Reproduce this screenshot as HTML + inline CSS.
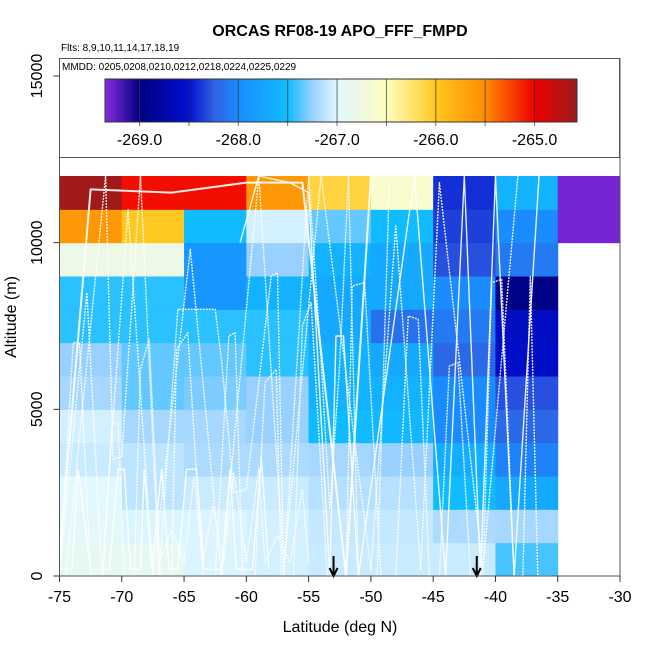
<!DOCTYPE html>
<html><head><meta charset="utf-8"><style>
body{margin:0;background:#fff}
svg text{font-family:"Liberation Sans",sans-serif}
</style></head><body>
<svg id="c" width="650" height="650" xmlns="http://www.w3.org/2000/svg">
<text x="340" y="36" text-anchor="middle" font-size="16" font-weight="bold">ORCAS RF08-19 APO_FFF_FMPD</text>
<text x="61" y="51" font-size="10">Flts: 8,9,10,11,14,17,18,19</text>
<g id="cells"></g>
<g id="tracks"></g>
<g id="legend"></g>
<g id="axes"></g>
</svg>
<script>
const NS="http://www.w3.org/2000/svg";
const latBins=[-75,-70,-65,-60,-55,-50,-45,-40,-35];
const altBins=[0,1000,2000,3000,4000,5000,6000,7000,8000,9000,10000,11000];
const row0=[-266.9,-266.9,-267.02,-267.05,-267.08,-267.08,-267.08,-267.4];
const row1=[-266.95,-267.02,-267.02,-267.05,-267.1,-267.1,-267.18,-267.2];
const row2=[-267.0,-267.12,-267.08,-267.08,-267.15,-267.15,-267.5,-267.7];
const row3=[-267.08,-267.12,-267.18,-267.18,-267.2,-267.25,-267.65,-268.05];
const row4=[-267.05,-267.2,-267.2,-267.25,-267.5,-267.55,-268.0,-268.2];
const row5=[-267.2,-267.35,-267.3,-267.25,-267.6,-267.6,-268.0,-268.3];
const row6=[-267.25,-267.35,-267.35,-267.45,-267.6,-267.7,-268.2,-268.55];
const row7=[-267.45,-267.45,-267.45,-267.45,-267.7,-268.15,-268.1,-268.6];
const row8=[-267.45,-267.45,-267.9,-267.6,-267.7,-267.7,-268.0,-268.95];
const row9=[-266.8,-266.8,-267.9,-267.25,-267.6,-267.7,-268.3,-268.1,null];
const row10=[-265.6,-266.0,-267.5,-267.05,-267.35,-267.5,-268.35,-268.0,-269.3];
const row11=[-264.6,-265.05,-265.05,-265.6,-266.1,-266.6,-268.4,-267.6,-269.3];
const rows=[row0,row1,row2,row3,row4,row5,row6,row7,row8,row9,row10,row11];
const colorTicks=[-269.0,-268.0,-267.0,-266.0,-265.0];
const cmapV=[-269.35,-269.0,-268.5,-268.25,-268.0,-267.5,-267.25,-267.0,-266.75,-266.5,-266.0,-265.5,-265.0,-264.57];
const cmapC=["#8a2be2","#000080","#0010d0","#3060e0","#1a8cff","#10bcff","#98d0ff","#e0f8ff","#f0f8e0","#ffffc0","#ffc820","#ff8c00","#f00000","#9b1c1c"];
const arrowLats=[-53,-41.5];
// flight track samples: [lat, alt]
const track1=[[-75,0],[-73.9,7000],[-73.4,7000],[-72.5,0],[-71.5,0],[-70.8,4500],[-70.3,4600],[-69.8,0],[-69,0],[-68.5,6200],[-67.8,7100],[-66.9,0],[-66,0],[-65.6,6800],[-64.7,7300],[-63.5,0],[-62.5,0],[-61.4,7200],[-60.9,7300],[-60.3,0],[-59.3,0],[-58.5,5800],[-57.6,6200],[-57.2,0],[-56.2,0],[-55.5,7500],[-54.8,8200],[-53.5,0],[-52,0],[-51.5,8700],[-50.5,8800],[-49.2,0],[-48,0],[-47,7800],[-46.2,7700],[-45.3,0],[-44.5,0],[-43.7,6300],[-43,6400],[-42,0],[-41,0],[-40.3,8800],[-39.5,8900],[-38.5,0],[-37.8,0],[-37.2,9000],[-36.6,0],[-35.5,0]];
const track2=[[-75,500],[-72.5,11600],[-66,11500],[-60,11800],[-55.5,11800],[-52,0],[-50,12000]];
const track3=[[-74.5,0],[-71.3,12000],[-70.7,3500],[-70,3600],[-68.5,12000],[-67,0],[-65.5,8000],[-62.5,8000],[-62,6500],[-61,2500],[-60,2600],[-58,9000],[-57.5,9100],[-57,0],[-55,12000],[-54,6500],[-53.3,2000],[-52.5,6400],[-51.8,12000],[-51,0],[-49.5,0],[-48.5,12000]];
const track4=[[-60.5,10000],[-59,12000],[-56.5,11800],[-55,11500],[-53.3,0],[-52.8,7200],[-52.2,7200],[-51,0],[-46.5,12000],[-44,0],[-42.5,12000],[-41.2,0],[-40,12000],[-38.5,0],[-36.5,12000]];
const track5=[[-67,400],[-66,1400],[-65,400],[-64.2,3000],[-63.5,400],[-62.7,2100],[-61.8,400],[-61,3100],[-60,400],[-59,3200],[-58.5,400],[-57.5,1200],[-56.5,400],[-55.5,2600],[-55,400]];
const track6=[[-75,200],[-74,200],[-73.5,3200],[-72.5,200],[-71,200],[-70.3,3200],[-69.8,3200],[-69.3,200],[-68.5,200],[-68.2,3200],[-67.6,200],[-66.8,3200],[-66.2,200],[-65.5,200],[-64.8,3200],[-64,3200],[-63.4,200],[-62,200],[-61.3,3200],[-60.8,200],[-59.5,200],[-58.8,3600],[-58.2,200]];
const track7=[[-75,0],[-72.8,8500],[-71.6,0],[-69.5,11000],[-67.5,0],[-64.5,9800],[-62,0],[-59,12000],[-57,200],[-54,12000],[-50,200],[-48,10500],[-46,200],[-44.5,11800],[-41,200],[-38.2,12000]];
const tracks=[track1,track2,track3,track4,track5,track6,track7];

const X0=59.5,X1=620,Y0=576,Y1=76;
const xs=v=>X0+(v+75)/45*(X1-X0);
const ys=v=>Y0-v/15000*(Y0-Y1);
function hex(c){return [1,3,5].map(i=>parseInt(c.substr(i,2),16));}
function cmap(v){
  if(v<=cmapV[0])return cmapC[0];
  for(let i=1;i<cmapV.length;i++){if(v<=cmapV[i]){const t=(v-cmapV[i-1])/(cmapV[i]-cmapV[i-1]);const a=hex(cmapC[i-1]),b=hex(cmapC[i]);return "rgb("+a.map((x,k)=>Math.round(x+(b[k]-x)*t)).join(",")+")";}}
  return cmapC[cmapC.length-1];
}
function mk(tag,attrs,parent){const e=document.createElementNS(NS,tag);for(const k in attrs)e.setAttribute(k,attrs[k]);parent.appendChild(e);return e;}
const cells=document.getElementById('cells');
rows.forEach((r,ri)=>{r.forEach((v,ci)=>{if(v===null)return;
  const lat=latBins[ci];const alt=altBins[ri];
  const e=mk('rect',{x:xs(lat),y:ys(alt+1000),width:xs(lat+5)-xs(lat)+0.5,height:ys(alt)-ys(alt+1000)+0.5,fill:cmap(v)},cells);
  
  
});});
const tg=document.getElementById('tracks');
tracks.forEach((t,i)=>{
  const e=mk('polyline',{points:t.map(p=>xs(p[0])+","+ys(p[1])).join(" "),fill:"none",stroke:"#fff","stroke-width":i==1?2:1.4,"stroke-dasharray":i%2?"":"2,1","stroke-linejoin":"round","stroke-opacity":0.9},tg);
  
  
});
arrowLats.forEach(l=>{
  const g=mk('g',{stroke:"#000","stroke-width":2,fill:"none"},tg);
  
  
  mk('line',{x1:xs(l),y1:556,x2:xs(l),y2:576},g);
  mk('polyline',{points:(xs(l)-4)+",568 "+xs(l)+",576 "+(xs(l)+4)+",568"},g);
});
// legend
const lg=document.getElementById('legend');
mk('rect',{x:59.5,y:58.5,width:560,height:99,fill:"#fff",stroke:"#555","stroke-width":1},lg);
const mt=mk('text',{x:62,y:70,"font-size":10},lg);mt.textContent="MMDD: 0205,0208,0210,0212,0218,0224,0225,0229";


const CB0=105,CB1=577,cv=v=>CB0+(v-cmapV[0])/(cmapV[cmapV.length-1]-cmapV[0])*(CB1-CB0);
const defs=mk('defs',{},lg);const gr=mk('linearGradient',{id:"cg",x1:0,x2:1,y1:0,y2:0},defs);
cmapV.forEach((v,i)=>mk('stop',{offset:(cv(v)-CB0)/(CB1-CB0),"stop-color":cmapC[i]},gr));
const bar=mk('rect',{x:CB0,y:79,width:CB1-CB0,height:43,fill:"url(#cg)",stroke:"#333"},lg);


for(let v=-269;v<=-265;v+=0.5){mk('line',{x1:cv(v),x2:cv(v),y1:79,y2:126,stroke:"#333","stroke-opacity":0.7},lg);}
colorTicks.forEach(v=>{const t=mk('text',{x:cv(v),y:145,"font-size":16,"text-anchor":"middle"},lg);t.textContent=v.toFixed(1);
  
  });
// axes
const ax=document.getElementById('axes');
mk('rect',{x:X0,y:58.5,width:X1-X0,height:Y0-58.5,fill:"none",stroke:"#555"},ax);
for(let v=-75;v<=-30;v+=5){mk('line',{x1:xs(v),x2:xs(v),y1:Y0,y2:Y0+6,stroke:"#333"},ax);
  const t=mk('text',{x:xs(v),y:602,"font-size":16,"text-anchor":"middle"},ax);t.textContent=v;
  
  }
[0,5000,10000,15000].forEach(v=>{mk('line',{x1:X0-6,x2:X0,y1:ys(v),y2:ys(v),stroke:"#333"},ax);
  const t=mk('text',{x:0,y:0,"font-size":16,"text-anchor":"middle",transform:"translate(42,"+ys(v)+") rotate(-90)"},ax);t.textContent=v;
  
  });
const xl=mk('text',{x:340,y:632,"font-size":16,"text-anchor":"middle"},ax);xl.textContent="Latitude (deg N)";


const yl=mk('text',{x:0,y:0,"font-size":16,"text-anchor":"middle",transform:"translate(16,317) rotate(-90)"},ax);yl.textContent="Altitude (m)";


</script>
</body></html>
